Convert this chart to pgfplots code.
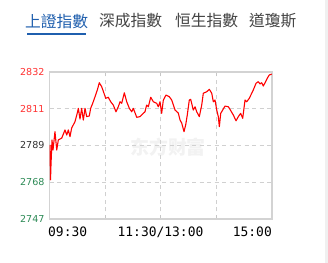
\documentclass[border=0pt]{standalone}
\usepackage{pgfplots}
\pgfplotsset{compat=1.18}
\usepackage{fontspec}
\setmainfont{DejaVu Sans}
\newfontfamily\cjk{Noto Sans CJK TC}
\newfontfamily\cjksc{Noto Sans CJK SC}
\newfontfamily\tickfont{DejaVu Sans}
\newfontfamily\monofont{DejaVu Sans Mono}
\definecolor{tabblue}{HTML}{1F5FAE}
\definecolor{tabgray}{HTML}{444444}
\definecolor{tred}{HTML}{FF3333}
\definecolor{tgreen}{HTML}{2E8B57}
\definecolor{tdark}{HTML}{333333}
\definecolor{gridgray}{HTML}{D0D0D0}
\definecolor{bordergray}{HTML}{D3D3D3}
\definecolor{wm}{HTML}{F2F2F2}
\definecolor{strip}{HTML}{F0F0F0}
\begin{document}
\begin{tikzpicture}
\fill[white] (0,0) rectangle (328bp,263bp);
\path[use as bounding box] (0,0) rectangle (328bp,263bp);
\fill[strip] (325bp,0) rectangle (328bp,263bp);
% tabs
\node[anchor=west, inner sep=0pt, text=tabblue, font=\cjk\fontsize{15.8}{18}\selectfont] at (25bp,242bp) {上證指數};
\node[anchor=west, inner sep=0pt, text=tabgray, font=\cjk\fontsize{15.8}{18}\selectfont] at (99bp,242bp) {深成指數};
\node[anchor=west, inner sep=0pt, text=tabgray, font=\cjk\fontsize{15.8}{18}\selectfont] at (175bp,242bp) {恒生指數};
\node[anchor=west, inner sep=0pt, text=tabgray, font=\cjk\fontsize{15.8}{18}\selectfont] at (249bp,242bp) {道瓊斯};
\fill[tabblue] (26.7bp,227.7bp) rectangle (86bp,229.7bp);
% watermark
\node[inner sep=0pt, text=wm, font=\cjksc\bfseries\fontsize{19}{20}\selectfont] at (168bp,116bp) {东方财富};
\begin{axis}[
  at={(49.5bp,44bp)}, anchor=south west,
  scale only axis, width=222.5bp, height=147bp,
  xmin=0, xmax=240, ymin=2747, ymax=2832,
  xtick={60,120,180}, xticklabels={{},{},{}},
  ytick={2747,2768.25,2789.5,2810.75,2832},
  yticklabels={\textcolor{tgreen}{2747},\textcolor{tgreen}{2768},\textcolor{tdark}{2789},\textcolor{tred}{2811},\textcolor{tred}{2832}},
  grid=major,
  major grid style={draw=gridgray, dash pattern=on 4bp off 3.5bp, line width=0.9bp},
  axis line style={draw=bordergray, line width=1.1bp},
  tick align=inside, major tick length=3.5bp,
  xtick style={draw=gray!45, line width=0.8bp},
  ytick style={draw=none},
  yticklabel style={font=\tickfont\fontsize{9.6}{10}\selectfont, anchor=east, inner sep=0pt, xshift=-4.8bp},
]
\addplot[color=red, line width=1.1bp, line join=round] table {
x y
0.5 2789.8
1.1 2769.6
1.6 2778.2
2.7 2792.7
3.8 2786.9
5.9 2797.5
7.8 2786.9
9.5 2792.7
13.2 2793.8
16.7 2798.5
18.6 2795.6
20.3 2798.5
22.1 2794.6
23.9 2799.6
27.5 2803.3
30.0 2808.3
31.1 2811.0
32.9 2804.8
34.7 2811.0
36.5 2804.2
38.3 2811.0
40.1 2806.2
42.9 2806.6
44.4 2811.0
46.6 2813.9
49.1 2817.7
51.6 2821.6
53.7 2825.8
56.3 2823.5
58.8 2819.7
60.6 2816.8
63.4 2817.4
66.0 2814.8
68.8 2812.9
71.7 2809.0
74.2 2811.9
76.1 2814.8
77.9 2813.9
80.7 2820.0
83.3 2814.8
86.1 2811.0
88.7 2809.0
90.4 2811.0
94.1 2805.8
97.6 2806.2
101.2 2808.1
103.0 2809.0
104.8 2812.9
106.6 2811.9
109.2 2817.4
112.0 2814.8
115.6 2813.9
117.4 2811.9
119.2 2814.8
121.0 2808.1
122.8 2815.8
125.7 2818.7
129.2 2817.7
131.8 2815.8
135.4 2810.0
138.9 2808.3
140.8 2804.2
142.6 2802.5
145.1 2797.5
146.9 2801.4
148.6 2807.1
150.8 2815.8
152.3 2816.2
155.1 2810.0
157.0 2811.9
158.8 2809.0
161.6 2806.2
164.2 2812.9
165.9 2819.7
169.6 2820.6
172.4 2822.0
175.0 2819.7
176.7 2814.8
178.5 2815.8
180.4 2810.0
182.1 2806.2
183.2 2800.4
184.7 2808.1
186.8 2810.0
189.3 2812.3
192.9 2811.9
194.7 2810.4
198.3 2807.1
201.2 2803.8
203.7 2806.2
206.2 2808.1
208.4 2805.2
210.9 2815.8
212.7 2814.8
215.5 2816.8
218.1 2819.7
219.8 2821.6
222.8 2825.5
225.2 2826.4
227.1 2825.1
228.9 2825.8
230.6 2823.9
232.5 2825.8
234.9 2828.4
237.1 2830.3
239.7 2830.8
};
\end{axis}
% x labels
\node[anchor=west, inner sep=0pt, text=black, font=\monofont\fontsize{13}{14}\selectfont] at (48bp,31bp) {09:30};
\node[anchor=center, inner sep=0pt, text=black, font=\monofont\fontsize{13}{14}\selectfont] at (160.5bp,31bp) {11:30/13:00};
\node[anchor=east, inner sep=0pt, text=black, font=\monofont\fontsize{13}{14}\selectfont] at (272bp,31bp) {15:00};
\end{tikzpicture}
\end{document}
